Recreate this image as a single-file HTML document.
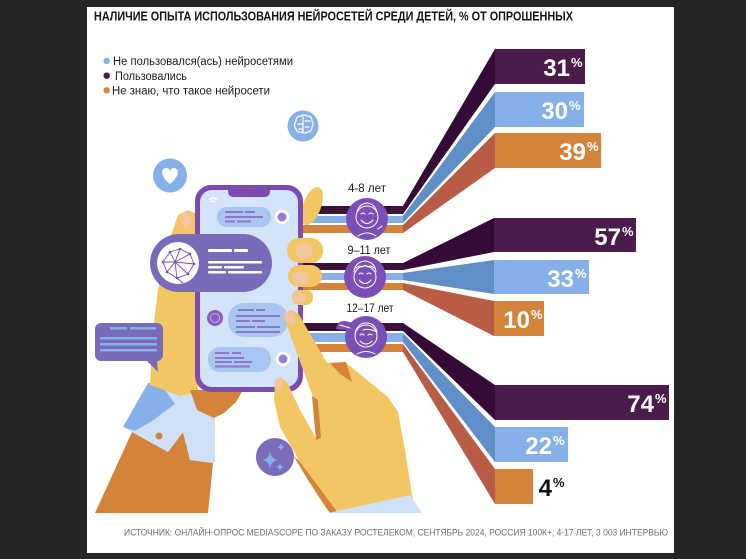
<!DOCTYPE html>
<html><head><meta charset="utf-8">
<style>
html,body{margin:0;padding:0;background:#262626;}
svg{display:block;}
text{font-family:"Liberation Sans","Noto Sans CJK SC",sans-serif;}
</style></head>
<body>
<svg width="746" height="559" viewBox="0 0 746 559" xmlns="http://www.w3.org/2000/svg">
<rect width="746" height="559" fill="#262626"/>
<rect x="87" y="7" width="587" height="546" fill="#ffffff"/>

<!-- title -->
<text x="94" y="20.6" font-size="12.5" font-weight="bold" fill="#141414" textLength="479" lengthAdjust="spacingAndGlyphs">НАЛИЧИЕ ОПЫТА ИСПОЛЬЗОВАНИЯ НЕЙРОСЕТЕЙ СРЕДИ ДЕТЕЙ, % ОТ ОПРОШЕННЫХ</text>

<!-- legend -->
<circle cx="106.7" cy="61" r="3.2" fill="#86b0ea"/>
<circle cx="106.7" cy="75.7" r="3.2" fill="#4a1a4a"/>
<circle cx="106.7" cy="90.3" r="3.2" fill="#d4843a"/>
<text x="113" y="65" font-size="11.5" fill="#1a1a1a" textLength="180" lengthAdjust="spacingAndGlyphs">Не пользовался(ась) нейросетями</text>
<text x="115" y="80" font-size="11.5" fill="#1a1a1a" textLength="72" lengthAdjust="spacingAndGlyphs">Пользовались</text>
<text x="112" y="94.3" font-size="11.5" fill="#1a1a1a" textLength="158" lengthAdjust="spacingAndGlyphs">Не знаю, что такое нейросети</text>

<!-- brain icon -->
<circle cx="303" cy="126" r="15.5" fill="#86b0ea"/>
<g stroke="#fff" stroke-width="1.2" fill="none" stroke-linecap="round">
<path d="M296 121 q0 -5 5 -5 q3 -2 6 0 q5 0 5 5 q2 3 0 6 q0 4 -4 5 q-3 2 -6 0 q-5 1 -6 -3 q-3 -4 0 -8z"/>
<path d="M303 117 v16 M298 124 h4 M305 121 h5 M305 127 h4 M299 129 h3"/>
</g>

<!-- heart icon -->
<circle cx="170" cy="175.5" r="17" fill="#86b0ea"/>
<path d="M170 184 C161 177 160 169 165.5 168 C168 167.6 169.6 169.5 170 171 C170.4 169.5 172 167.6 174.5 168 C180 169 179 177 170 184 Z" fill="#fff"/>

<!-- ===== group 1 ===== -->
<rect x="300" y="206" width="103" height="8" fill="#3a1139"/>
<rect x="300" y="216" width="103" height="7" fill="#86b0ea"/>
<rect x="300" y="225" width="103" height="8" fill="#d4843a"/>
<polygon points="403,206 495,49 495,84 403,214" fill="#330b36"/>
<polygon points="403,216 495,92 495,127 403,223" fill="#5f8fc6"/>
<polygon points="403,225 495,133 495,168 403,233" fill="#b85c45"/>
<rect x="495" y="49" width="90" height="35" fill="#4b1c4b"/>
<rect x="495" y="92" width="89" height="35" fill="#86b0ea"/>
<rect x="495" y="133" width="106" height="35" fill="#d4843a"/>

<!-- ===== group 2 ===== -->
<rect x="300" y="263" width="103" height="7" fill="#3a1139"/>
<rect x="300" y="273" width="103" height="7" fill="#86b0ea"/>
<rect x="300" y="283" width="103" height="7" fill="#d4843a"/>
<polygon points="403,263 494,218 494,252 403,270" fill="#330b36"/>
<polygon points="403,273 494,260 494,294 403,280" fill="#5f8fc6"/>
<polygon points="403,283 494,301 494,336 403,290" fill="#b85c45"/>
<rect x="494" y="218" width="142" height="34" fill="#4b1c4b"/>
<rect x="494" y="260" width="95" height="34" fill="#86b0ea"/>
<rect x="494" y="301" width="50" height="35" fill="#d4843a"/>

<!-- ===== group 3 ===== -->
<rect x="300" y="323" width="103" height="8" fill="#3a1139"/>
<rect x="300" y="333" width="103" height="9" fill="#86b0ea"/>
<rect x="300" y="344" width="103" height="8" fill="#d4843a"/>
<polygon points="403,323 495,385 495,420 403,331" fill="#330b36"/>
<polygon points="403,333 495,427 495,462 403,342" fill="#5f8fc6"/>
<polygon points="403,344 495,469 495,504 403,352" fill="#b85c45"/>
<rect x="495" y="385" width="174" height="35" fill="#4b1c4b"/>
<rect x="495" y="427" width="73" height="35" fill="#86b0ea"/>
<rect x="495" y="469" width="38" height="35" fill="#d4843a"/>

<!-- percent labels -->
<g font-weight="bold" fill="#fff">
<text x="570" y="76" font-size="24" text-anchor="end">31</text><text x="571" y="67" font-size="13">%</text>
<text x="568" y="119" font-size="24" text-anchor="end">30</text><text x="569" y="110" font-size="13">%</text>
<text x="586" y="160" font-size="24" text-anchor="end">39</text><text x="587" y="151" font-size="13">%</text>
<text x="621" y="245" font-size="24" text-anchor="end">57</text><text x="622" y="236" font-size="13">%</text>
<text x="574" y="287" font-size="24" text-anchor="end">33</text><text x="575" y="278" font-size="13">%</text>
<text x="530" y="328" font-size="24" text-anchor="end">10</text><text x="531" y="319" font-size="13">%</text>
<text x="654" y="412" font-size="24" text-anchor="end">74</text><text x="655" y="403" font-size="13">%</text>
<text x="552" y="454" font-size="24" text-anchor="end">22</text><text x="553" y="445" font-size="13">%</text>
</g>
<text x="552" y="496" font-size="24" font-weight="bold" text-anchor="end" fill="#111">4</text>
<text x="553" y="487" font-size="13" font-weight="bold" fill="#111">%</text>

<!-- age labels -->
<text x="367" y="192" font-size="11.5" text-anchor="middle" fill="#1a1a1a" textLength="38" lengthAdjust="spacingAndGlyphs">4-8 лет</text>
<text x="369" y="254" font-size="11.5" text-anchor="middle" fill="#1a1a1a" textLength="43" lengthAdjust="spacingAndGlyphs">9–11 лет</text>
<text x="370" y="312" font-size="11.5" text-anchor="middle" fill="#1a1a1a" textLength="47" lengthAdjust="spacingAndGlyphs">12–17 лет</text>

<!-- kid circles -->
<g fill="none" stroke="#fff" stroke-width="1" stroke-linecap="round">
<circle cx="367" cy="219" r="21" fill="#7b4fb5" stroke="none"/>
<circle cx="367" cy="217" r="11"/>
<path d="M357 212 q2 -8 10 -9 q8 1 10 9"/>
<path d="M361 214 q2 -2 4 0 M369 214 q2 -2 4 0 M361 220 q6 7 12 0 M358 236 q9 -6 18 0 M378 229 l4 -3"/>

<circle cx="365" cy="277" r="21" fill="#7b4fb5" stroke="none"/>
<circle cx="365" cy="277" r="11"/>
<path d="M354 272 q1 -10 11 -11 q10 1 11 11 M356 268 q3 -3 6 -1 q3 -3 6 0 q3 -2 6 1"/>
<path d="M359 274 q2 -2 4 0 M367 274 q2 -2 4 0 M359 280 q6 7 12 0"/>

<path d="M352 323 q-14 -6 -16 6 q8 2 14 0 z" fill="#7b4fb5" stroke="none"/>
<circle cx="366" cy="337" r="21" fill="#7b4fb5" stroke="none"/>
<circle cx="366" cy="336" r="11"/>
<path d="M355 333 q3 -10 11 -10 q9 0 11 9 q-8 -4 -14 -2 M360 335 q2 -2 4 0 M368 335 q2 -2 4 0 M360 341 q6 6 12 0 M357 354 q9 -5 18 0 M340 325 l10 3"/>
</g>

<!-- left arm -->
<polygon points="132,432 168,452 183,432 190,460 213,463 208,513 95,513" fill="#d4843a"/>
<polygon points="148,383 195,388 215,417 215,463 190,460 183,432 168,452 125,428" fill="#cfe0f8"/>
<polygon points="123,427 148,383 160,383 175,404 152,421 135,431" fill="#86b0ea"/>
<circle cx="159" cy="436" r="3.5" fill="#d4843a"/>
<!-- left palm -->
<polygon points="178,215 188,210 197,214 198,392 180,396 150,385 153,330 158,290 166,250" fill="#f3c664"/>
<ellipse cx="186" cy="220" rx="5" ry="8" fill="#f2c4a0"/>
<polygon points="190,390 243,390 236,402 224,413 214,418 197,410" fill="#d4843a"/>
<!-- finger behind phone top-right -->
<ellipse cx="312" cy="206" rx="9" ry="20" transform="rotate(20 312 206)" fill="#f3c664"/>

<!-- phone -->
<rect x="195" y="185" width="108" height="207" rx="16" fill="#7b4bb0"/>
<rect x="200" y="190" width="98" height="197" rx="12" fill="#d3e3f9"/>
<rect x="228" y="186" width="42" height="11" rx="5" fill="#7b4bb0"/>
<path d="M209 200 q4 -4 8 0 M211 202 q2 -2 4 0" stroke="#fff" stroke-width="1.2" fill="none"/>

<!-- bubble 1 -->
<rect x="217" y="207" width="54" height="20" rx="10" fill="#a9c6f0"/>
<g fill="#8a78c8">
<rect x="225" y="211" width="18" height="2"/><rect x="245" y="211" width="10" height="2"/>
<rect x="225" y="216" width="38" height="2"/>
<rect x="225" y="220.5" width="10" height="2"/><rect x="237" y="220.5" width="14" height="2"/>
</g>
<circle cx="282" cy="217" r="7" fill="#fff"/>
<circle cx="282" cy="217" r="4.5" fill="#9a7fd0"/>

<!-- bubble 3 -->
<rect x="228" y="303" width="60" height="34" rx="16" fill="#a9c6f0"/>
<g fill="#8a78c8">
<rect x="238" y="309" width="16" height="2"/><rect x="256" y="309" width="9" height="2"/>
<rect x="236" y="315" width="44" height="2"/>
<rect x="236" y="320" width="14" height="2"/><rect x="252" y="320" width="13" height="2"/>
<rect x="236" y="326" width="19" height="2"/><rect x="257" y="326" width="23" height="2"/>
<rect x="236" y="331" width="44" height="2"/>
</g>
<circle cx="215" cy="318" r="8" fill="#8a5cc0"/>
<circle cx="215" cy="318" r="4.5" fill="none" stroke="#c6a8ea" stroke-width="1"/>

<!-- bubble 4 -->
<rect x="208" y="347" width="63" height="25" rx="12" fill="#a9c6f0"/>
<g fill="#8a78c8">
<rect x="215" y="352" width="14" height="2"/><rect x="232" y="352" width="9" height="2"/>
<rect x="215" y="357" width="29" height="2"/>
<rect x="215" y="361" width="17" height="2"/><rect x="234" y="361" width="18" height="2"/>
<rect x="215" y="365.5" width="35" height="2"/>
</g>
<circle cx="283" cy="359" r="7" fill="#fff"/>
<circle cx="283" cy="359" r="4.5" fill="#9a7fd0"/>

<!-- big purple bubble -->
<rect x="150" y="234" width="122" height="58" rx="29" fill="#7a6bb8"/>
<circle cx="178" cy="263" r="21" fill="#fff"/>
<g stroke="#7b4bb0" stroke-width="0.9" fill="none">
<path d="M163 262 L170 252 L180 249 L190 254 L194 264 L188 274 L177 278 L167 272 Z"/>
<path d="M170 252 L175 262 L180 249 M175 262 L190 254 M175 262 L194 264 M175 262 L188 274 M175 262 L177 278 M175 262 L167 272 M175 262 L163 262 M183 283 L177 278"/>
</g>
<g fill="#7b4bb0">
<circle cx="170" cy="252" r="1.3"/><circle cx="180" cy="249" r="1.3"/><circle cx="190" cy="254" r="1.3"/>
<circle cx="194" cy="264" r="1.3"/><circle cx="188" cy="274" r="1.3"/><circle cx="177" cy="278" r="1.3"/>
<circle cx="167" cy="272" r="1.3"/><circle cx="163" cy="262" r="1.3"/><circle cx="175" cy="262" r="1.3"/>
</g>
<g fill="#fff">
<rect x="208" y="249" width="24" height="3" rx="1"/><rect x="234" y="249" width="14" height="3" rx="1"/>
<rect x="208" y="261" width="54" height="2.5" rx="1"/>
<rect x="208" y="266" width="14" height="2.5" rx="1"/><rect x="224" y="266" width="20" height="2.5" rx="1"/>
<rect x="208" y="271" width="18" height="2.5" rx="1"/><rect x="228" y="271" width="34" height="2.5" rx="1"/>
</g>

<!-- left chat bubble -->
<rect x="95" y="323" width="68" height="38" rx="6" fill="#7a6bb8"/>
<polygon points="146,360 158,372 157,360" fill="#7a6bb8"/>
<g fill="#86b0ea">
<rect x="110" y="327" width="17" height="2.5"/><rect x="130" y="327" width="26" height="2.5"/>
<rect x="100" y="337" width="57" height="2.5"/>
<rect x="100" y="343" width="57" height="2.5"/>
<rect x="100" y="349" width="57" height="2.5"/>
</g>

<!-- fingertips on right of phone -->
<rect x="287" y="238" width="36" height="25" rx="12" fill="#f3c664"/>
<rect x="296" y="243" width="16" height="16" rx="6" fill="#f2c4a0"/>
<rect x="288" y="265" width="34" height="22" rx="11" fill="#f3c664"/>
<rect x="292" y="272" width="17" height="12" rx="5" fill="#f2c4a0"/>
<rect x="292" y="290" width="21" height="15" rx="7" fill="#f3c664"/>
<rect x="293" y="293" width="13" height="10" rx="4" fill="#f2c4a0"/>

<!-- right hand -->
<polygon points="283,315 290,310 298,313 327,363 345,362 388,397 398,412 405,450 412,495 415,505 330,513 325,507 308,480 295,453 280,427 274,400 275,382 280,377 287,382 300,410 317,440 313,397" fill="#f3c664"/>
<polygon points="312,396 318,400 321,438 316,440" fill="#d4843a"/>
<polygon points="330,363 346,362 352,382 340,374" fill="#d4843a"/>
<polygon points="293,455 300,462 338,513 330,513 308,480" fill="#d4843a"/>
<ellipse cx="290" cy="318" rx="5" ry="7" transform="rotate(-25 290 318)" fill="#f2c4a0"/>
<ellipse cx="278.5" cy="384" rx="4" ry="6" fill="#f2c4a0"/>
<polygon points="328,513 410,495 422,513" fill="#cfe0f8"/>

<!-- sparkle -->
<circle cx="275" cy="457" r="19" fill="#7c6bb8"/>
<g fill="#86b0ea">
<path d="M270 451 Q271 459 278 460 Q271 461 270 469 Q269 461 262 460 Q269 459 270 451 Z"/>
<path d="M281 443 Q281.5 446.5 285 447 Q281.5 447.5 281 451 Q280.5 447.5 277 447 Q280.5 446.5 281 443 Z"/>
<path d="M280 463 Q280.5 466.5 284 467 Q280.5 467.5 280 471 Q279.5 467.5 276 467 Q279.5 466.5 280 463 Z"/>
</g>

<!-- source -->
<text x="124" y="535.6" font-size="9.4" fill="#6e6e6e" textLength="544" lengthAdjust="spacingAndGlyphs">ИСТОЧНИК: ОНЛАЙН-ОПРОС MEDIASCOPE ПО ЗАКАЗУ РОСТЕЛЕКОМ, СЕНТЯБРЬ 2024, РОССИЯ 100К+, 4-17 ЛЕТ, 3 003 ИНТЕРВЬЮ</text>
</svg>
</body></html>
